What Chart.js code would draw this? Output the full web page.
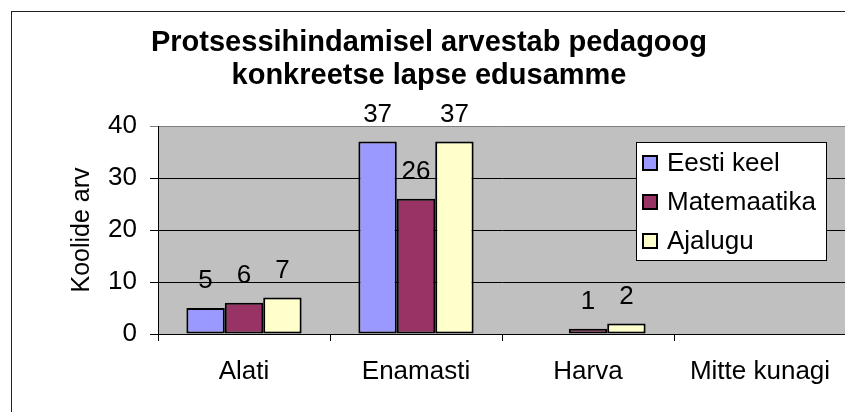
<!DOCTYPE html>
<html>
<head>
<meta charset="utf-8">
<script src="https://cdn.jsdelivr.net/npm/chart.js@4"></script>
<style>
  body { margin: 0; background: #fff; overflow: hidden; width: 845px; height: 412px; }
  #box { position: absolute; left: 11px; top: 11px; width: 842px; height: 420px; border: 1px solid #222; }
  canvas { display: block; }
</style>
</head>
<body>
<div id="box"><canvas id="myChart" width="842" height="420"></canvas></div>
<script>
'use strict';

const categories = ['Alati', 'Enamasti', 'Harva', 'Mitte kunagi'];
const eestiKeel = [5, 37, 0, 0];
const matemaatika = [6, 26, 1, 0];
const ajalugu = [7, 37, 2, 0];
const yTicks = [0, 10, 20, 30, 40];
const titleLines = ['Protsessihindamisel arvestab pedagoog', 'konkreetse lapse edusamme'];

const FONT = '"Liberation Sans", Arial, sans-serif';
const ctx = document.getElementById('myChart');

// grey plot area like old excel charts
const plotBg = {
  id: 'plotBg',
  beforeDraw(chart) {
    const a = chart.chartArea;
    const c = chart.ctx;
    c.save();
    c.fillStyle = '#c0c0c0';
    c.fillRect(a.left, a.top, a.right - a.left, a.bottom - a.top);
    c.restore();
  }
};

// numbers over the bars (zeros are left out)
const barValues = {
  id: 'barValues',
  afterDatasetsDraw(chart) {
    const c = chart.ctx;
    c.save();
    c.font = '26px ' + FONT;
    c.fillStyle = '#000';
    c.textAlign = 'center';
    c.textBaseline = 'alphabetic';
    chart.data.datasets.forEach(function (ds, i) {
      chart.getDatasetMeta(i).data.forEach(function (bar, j) {
        if (ds.data[j] > 0) {
          c.fillText(ds.data[j], bar.x, bar.y - 20);
        }
      });
    });
    c.restore();
  }
};

// legend box sitting inside the plot area
const boxLegend = {
  id: 'boxLegend',
  afterDraw(chart) {
    const c = chart.ctx;
    const a = chart.chartArea;
    const w = 190;
    const h = 118;
    const left = a.right - 20 - w;
    const top = a.top + 16;
    c.save();
    c.fillStyle = '#fff';
    c.fillRect(left, top, w, h);
    c.strokeStyle = '#000';
    c.lineWidth = 1;
    c.strokeRect(left + 0.5, top + 0.5, w, h);
    c.font = '26px ' + FONT;
    c.textBaseline = 'middle';
    c.textAlign = 'left';
    chart.data.datasets.forEach(function (ds, i) {
      const y = top + 21 + i * 39;
      c.fillStyle = ds.backgroundColor;
      c.fillRect(left + 7, y - 7, 14, 14);
      c.lineWidth = 2;
      c.strokeRect(left + 7, y - 7, 14, 14);
      c.fillStyle = '#000';
      c.fillText(ds.label, left + 31, y + 1);
    });
    c.restore();
  }
};

new Chart(ctx, {
  type: 'bar',
  data: {
    labels: categories,
    datasets: [{
      label: 'Eesti keel',
      data: eestiKeel,
      backgroundColor: '#9999ff',
    }, {
      label: 'Matemaatika',
      data: matemaatika,
      backgroundColor: '#993366',
    }, {
      label: 'Ajalugu',
      data: ajalugu,
      backgroundColor: '#ffffcc',
    }]
  },
  options: {
    responsive: false,
    animation: false,
    devicePixelRatio: 1,
    layout: { padding: { top: 0, right: 8, bottom: 0, left: 0 } },
    datasets: {
      bar: {
        categoryPercentage: 0.67,
        barPercentage: 1,
        borderColor: '#000',
        borderWidth: 2,
        borderSkipped: false,
      }
    },
    plugins: {
      legend: { display: false },
      tooltip: { enabled: false },
      title: {
        display: true,
        text: titleLines,
        color: '#000',
        font: { family: FONT, size: 29, weight: 'bold', lineHeight: '33.5px' },
        padding: { top: 14, bottom: 33 }
      }
    },
    scales: {
      x: {
        border: { color: '#000', width: 1 },
        grid: { drawOnChartArea: false, drawTicks: true, tickLength: 7, color: '#000', offset: true },
        ticks: { color: '#000', padding: 15, font: { family: FONT, size: 26 } },
        afterFit(scale) { scale.height = 98; }
      },
      y: {
        min: 0,
        max: 40,
        afterBuildTicks(scale) { scale.ticks = yTicks.map(v => ({ value: v })); },
        border: { color: '#000', width: 1 },
        grid: {
          color: function (c) { return c.tick && c.tick.value === 40 ? '#808080' : '#000'; },
          lineWidth: 1,
          tickLength: 8
        },
        ticks: { color: '#000', padding: 13, font: { family: FONT, size: 26 } },
        title: {
          display: true,
          text: 'Koolide arv',
          color: '#000',
          font: { family: FONT, size: 25 },
          padding: { top: 55, bottom: 0 }
        },
        afterFit(scale) { scale.width = 146; }
      }
    }
  },
  plugins: [plotBg, barValues, boxLegend]
});
</script>
</body>
</html>
